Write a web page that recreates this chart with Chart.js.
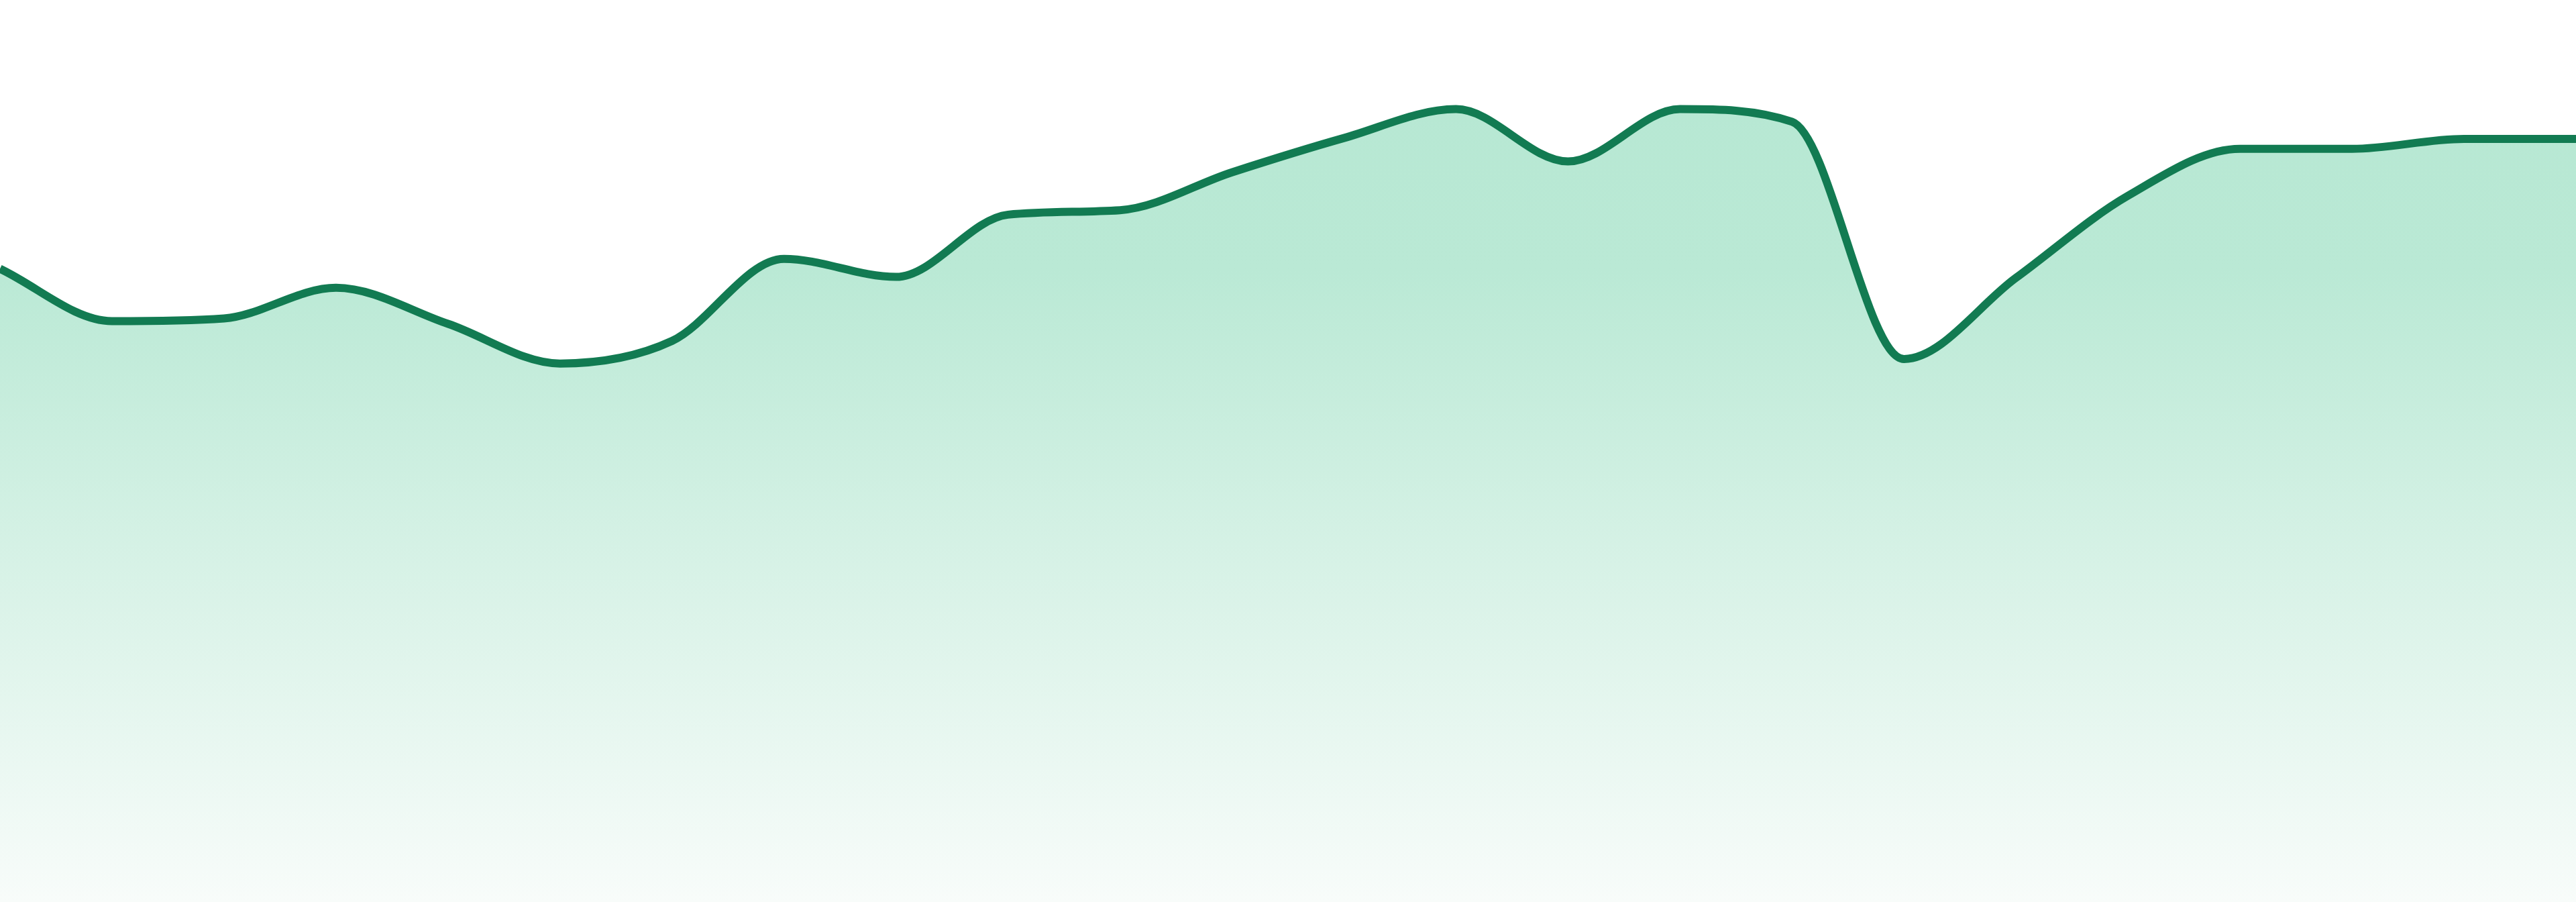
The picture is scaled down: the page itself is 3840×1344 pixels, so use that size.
<!DOCTYPE html>
<html>
<head>
<meta charset="utf-8">
<script src="https://cdn.jsdelivr.net/npm/chart.js@4.4.1/dist/chart.umd.min.js"></script>
<style>
  html, body { margin: 0; padding: 0; background: #ffffff; }
  #wrap { width: 3840px; height: 1344px; }
</style>
</head>
<body>
<div id="wrap"><canvas id="c" width="3840" height="1344"></canvas></div>
<script>
const categories = ["1","2","3","4","5","6","7","8","9","10","11","12","13","14","15","16","17","18","19","20","21","22","23","24"];
const values = [70.2, 64.4, 64.7, 68.1, 64.1, 59.7, 62.2, 71.3, 69.3, 76.2, 76.7, 80.9, 84.7, 87.9, 82.1, 87.9, 86.5, 60.2, 69.2, 78.3, 83.5, 83.5, 84.6, 84.6];
const yMin = 0;
const yMax = 100;

const ctx = document.getElementById('c').getContext('2d');
new Chart(ctx, {
  type: 'line',
  data: {
    labels: categories,
    datasets: [{
      data: values,
      borderColor: '#127b52',
      borderWidth: 12,
      cubicInterpolationMode: 'monotone',
      pointRadius: 0,
      fill: true,
      backgroundColor: (context) => {
        const chart = context.chart;
        const area = chart.chartArea;
        if (!area) return 'rgba(184,232,212,1)';
        const g = chart.ctx.createLinearGradient(0, area.top, 0, area.bottom);
        g.addColorStop(0, 'rgb(181,231,210)');
        g.addColorStop(0.3, 'rgb(186,233,213)');
        g.addColorStop(1, 'rgb(248,252,250)');
        return g;
      }
    }]
  },
  options: {
    responsive: false,
    animation: false,
    devicePixelRatio: 1,
    layout: { padding: 0 },
    plugins: { legend: { display: false }, tooltip: { enabled: false } },
    scales: {
      x: { display: false, offset: false },
      y: { display: false, min: yMin, max: yMax }
    }
  }
});
</script>
</body>
</html>
